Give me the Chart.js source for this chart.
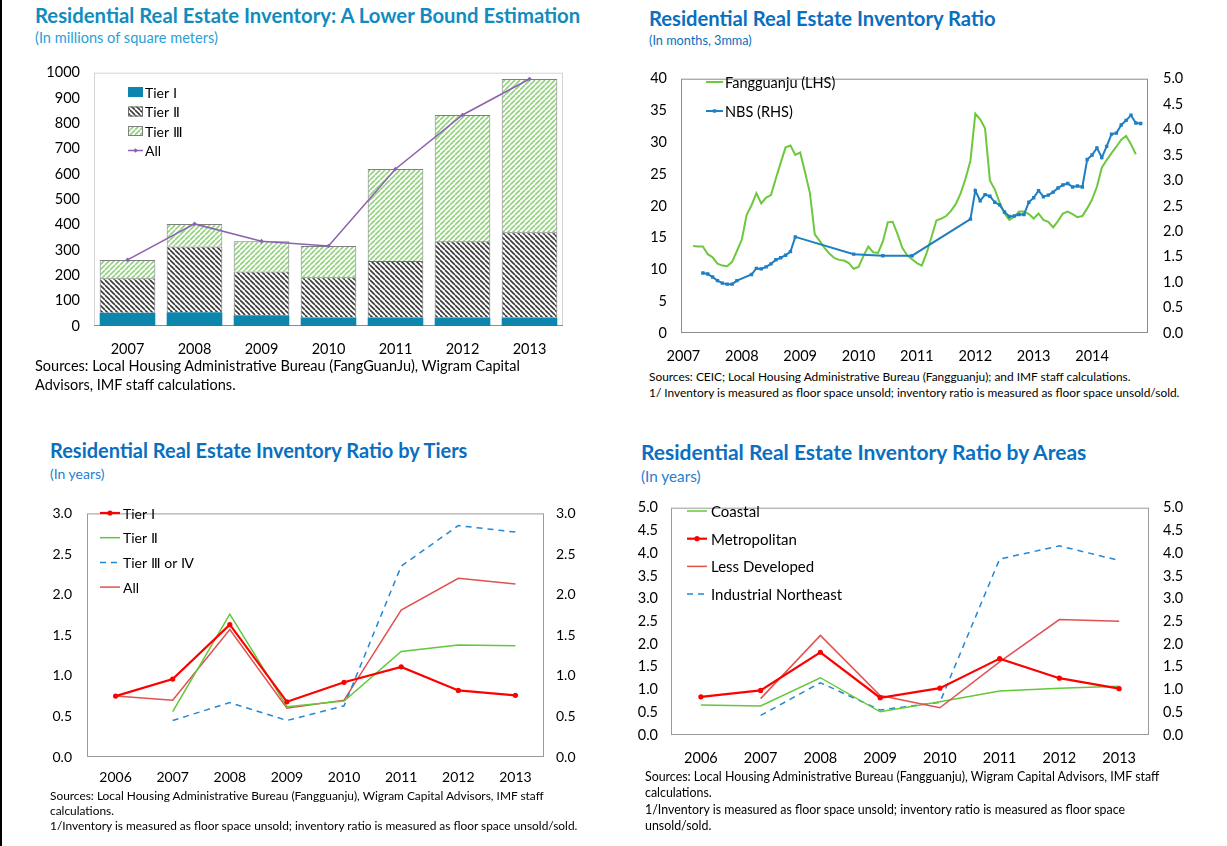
<!DOCTYPE html>
<html lang="en">
<head>
<meta charset="utf-8">
<title>Residential Real Estate Inventory</title>
<script src="https://cdn.jsdelivr.net/npm/chart.js@4.4.1/dist/chart.umd.min.js"></script>
<style>
  html, body { margin: 0; padding: 0; background: #fff; }
  body { position: relative; width: 1227px; height: 846px; overflow: hidden;
         font-family: "Lato", "Open Sans", sans-serif; color: #000; }
  .edge { position: absolute; left: 0; top: 0; width: 2px; height: 846px; background: #000; }
  .txt { position: absolute; white-space: nowrap; }
  .ttl { font-weight: 700; }
  .box { position: absolute; }
</style>
</head>
<body>
<div class="edge"></div>

<!-- top left -->
<div class="txt ttl" style="left:35px;top:5px;font-size:20.3px;line-height:21px;color:#128cbf">Residential Real Estate Inventory: A Lower Bound Estimation</div>
<div class="txt" style="left:35px;top:30px;font-size:14.6px;line-height:16px;color:#2a9fd8">(In millions of square meters)</div>
<div class="box" style="left:10px;top:50px"><canvas id="stockChart" width="560" height="312"></canvas></div>
<div class="txt" style="left:35px;top:356px;font-size:14.5px;line-height:19px">Sources: Local Housing Administrative Bureau (FangGuanJu), Wigram Capital<br>Advisors, IMF staff calculations.</div>

<!-- top right -->
<div class="txt ttl" style="left:649px;top:8px;font-size:20.2px;line-height:21px;color:#0a6fc0">Residential Real Estate Inventory Ratio</div>
<div class="txt" style="left:649px;top:33px;font-size:12.7px;line-height:14px;color:#0a6fc0">(In months, 3mma)</div>
<div class="box" style="left:600px;top:55px"><canvas id="ratioChart" width="627" height="310"></canvas></div>
<div class="txt" style="left:649px;top:369px;font-size:11.9px;line-height:16px">Sources: CEIC; Local Housing Administrative Bureau (Fangguanju); and IMF staff calculations.<br>1/ Inventory is measured as floor space unsold; inventory ratio is measured as floor space unsold/sold.</div>

<!-- bottom left -->
<div class="txt ttl" style="left:50px;top:440px;font-size:20px;line-height:21px;color:#0a6fc0">Residential Real Estate Inventory Ratio by Tiers</div>
<div class="txt" style="left:50px;top:466px;font-size:14px;line-height:15px;color:#1f7fd0">(In years)</div>
<div class="box" style="left:20px;top:490px"><canvas id="tierChart" width="600" height="300"></canvas></div>
<div class="txt" style="left:50px;top:788px;font-size:11.9px;line-height:15px">Sources: Local Housing Administrative Bureau (Fangguanju), Wigram Capital Advisors, IMF staff<br>calculations.<br>1/Inventory is measured as floor space unsold; inventory ratio is measured as floor space unsold/sold.</div>

<!-- bottom right -->
<div class="txt ttl" style="left:641px;top:441px;font-size:21px;line-height:22px;color:#0a6fc0">Residential Real Estate Inventory Ratio by Areas</div>
<div class="txt" style="left:641px;top:468px;font-size:15.3px;line-height:16px;color:#1f7fd0">(In years)</div>
<div class="box" style="left:620px;top:485px"><canvas id="areaChart" width="607" height="285"></canvas></div>
<div class="txt" style="left:645px;top:769px;font-size:12.4px;line-height:16.3px">Sources: Local Housing Administrative Bureau (Fangguanju), Wigram Capital Advisors, IMF staff<br>calculations.<br>1/Inventory is measured as floor space unsold; inventory ratio is measured as floor space<br>unsold/sold.</div>

<script>
/* ---------- data ---------- */

// inventory stock, millions of m2
var STOCK_YEARS = ["2007", "2008", "2009", "2010", "2011", "2012", "2013"];
var STOCK_TIER1 = [52, 54, 42, 34, 34, 34, 34];
var STOCK_TIER2 = [137, 260, 173, 158, 223, 301, 336];
var STOCK_TIER3 = [72, 89, 120, 124, 363, 498, 605];
var STOCK_ALL = [261, 403, 335, 316, 620, 833, 975];

// inventory ratio, months (3mma)
var RATIO_YEARS = ["2007", "2008", "2009", "2010", "2011", "2012", "2013", "2014"];
var FGJ_START = "2007-03";
var FGJ_VALUES = [
  13.7, 13.6, 13.6, 12.4, 11.9, 10.9, 10.6, 10.5, 11.2, 12.9,
  14.7, 18.6, 20.1, 22.0, 20.4, 21.3, 21.7, 24.3, 26.8, 29.2,
  29.5, 28.0, 28.4, 25.3, 22.0, 15.5, 14.5, 13.4, 12.5, 11.8,
  11.5, 11.4, 11.0, 10.1, 10.4, 12.1, 13.6, 12.7, 12.6, 14.4,
  17.4, 17.5, 15.6, 13.4, 12.2, 11.6, 11.0, 10.6, 12.6, 15.1,
  17.7, 18.0, 18.4, 19.2, 20.3, 22.0, 24.3, 27.1, 34.5, 33.6,
  32.2, 24.0, 22.6, 20.5, 18.8, 17.8, 18.3, 19.1, 19.1, 18.7,
  18.0, 18.8, 17.8, 17.5, 16.6, 17.6, 18.8, 19.1, 18.7, 18.2,
  18.4, 19.6, 21.0, 23.0, 26.0, 27.2, 28.3, 29.3, 30.4, 31.0,
  29.7, 28.1
];
var NBS_MONTHS = [
  "2007-05", "2007-06", "2007-07", "2007-08", "2007-09", "2007-10", "2007-11", "2007-12",
  "2008-03", "2008-04", "2008-05", "2008-06", "2008-07", "2008-08", "2008-09", "2008-10", "2008-11", "2008-12",
  "2009-12", "2010-06", "2010-12",
  "2011-12",
  "2012-01", "2012-02", "2012-03", "2012-04", "2012-05", "2012-06",
  "2012-07", "2012-08", "2012-09", "2012-10", "2012-11", "2012-12",
  "2013-01", "2013-02", "2013-03", "2013-04", "2013-05", "2013-06",
  "2013-07", "2013-08", "2013-09", "2013-10", "2013-11", "2013-12",
  "2014-01", "2014-02", "2014-03", "2014-04", "2014-05", "2014-06",
  "2014-07", "2014-08", "2014-09", "2014-10", "2014-11"
];
var NBS_VALUES = [
  1.18, 1.16, 1.10, 1.03, 0.98, 0.96, 0.96, 1.03,
  1.15, 1.27, 1.26, 1.30, 1.36, 1.44, 1.48, 1.53, 1.60, 1.89,
  1.55, 1.52, 1.52,
  2.24,
  2.80, 2.60, 2.72, 2.69, 2.57, 2.52,
  2.38, 2.29, 2.30, 2.33, 2.33, 2.57,
  2.66, 2.80, 2.68, 2.71, 2.77, 2.85,
  2.91, 2.94, 2.87, 2.89, 2.87, 3.41,
  3.50, 3.64, 3.45, 3.67, 3.91, 3.93,
  4.09, 4.18, 4.28, 4.13, 4.12
];

// ratio by tiers, years
var TIER_YEARS = ["2006", "2007", "2008", "2009", "2010", "2011", "2012", "2013"];
var TIER_1 = [0.75, 0.96, 1.63, 0.68, 0.92, 1.11, 0.82, 0.76];
var TIER_2 = [null, 0.56, 1.76, 0.62, 0.69, 1.30, 1.38, 1.37];
var TIER_34 = [null, 0.45, 0.67, 0.45, 0.63, 2.35, 2.85, 2.77];
var TIER_ALL = [0.75, 0.70, 1.57, 0.60, 0.70, 1.81, 2.20, 2.13];

// ratio by areas, years
var AREA_YEARS = ["2006", "2007", "2008", "2009", "2010", "2011", "2012", "2013"];
var AREA_COASTAL = [0.66, 0.64, 1.26, 0.51, 0.73, 0.97, 1.03, 1.07];
var AREA_METRO = [0.84, 0.98, 1.82, 0.82, 1.03, 1.68, 1.25, 1.02];
var AREA_LESSDEV = [null, 0.80, 2.19, 0.87, 0.60, 1.61, 2.54, 2.50];
var AREA_NORTHEAST = [null, 0.43, 1.15, 0.55, 0.72, 3.87, 4.16, 3.84];

/* ---------- helpers ---------- */

Chart.defaults.font.family = '"Lato", "Open Sans", sans-serif';
Chart.defaults.font.size = 14;
Chart.defaults.color = "#000";
Chart.defaults.animation = false;
Chart.defaults.plugins.legend.display = false;
Chart.defaults.plugins.tooltip.enabled = false;

function monthIndex(s) {
  var p = s.split("-");
  return (+p[0] - 2007) * 12 + (+p[1] - 1);
}

function hatch(color, dir, size, lw) {
  var s = size, c = document.createElement("canvas");
  c.width = s; c.height = s;
  var g = c.getContext("2d");
  g.fillStyle = "#fff";
  g.fillRect(0, 0, s, s);
  g.strokeStyle = color;
  g.lineWidth = lw;
  for (var o = -s; o <= s; o += s) {
    g.beginPath();
    if (dir > 0) { g.moveTo(o, s); g.lineTo(o + s, 0); }
    else { g.moveTo(o, 0); g.lineTo(o + s, s); }
    g.stroke();
  }
  return g.createPattern(c, "repeat");
}

function fixW(w) { return function (s) { s.width = w; }; }
function fixH(h) { return function (s) { s.height = h; }; }
function oneDecimal(v) { return v.toFixed(1); }

// plot-area box, like the Excel originals
var plotFrame = {
  id: "plotFrame",
  beforeDatasetsDraw: function (chart, args, o) {
    if (!o || !o.color) return;
    var a = chart.chartArea, ctx = chart.ctx;
    ctx.save();
    ctx.lineWidth = 1;
    ctx.strokeStyle = o.color;
    ctx.strokeRect(a.left + 0.5, a.top + 0.5, a.right - a.left - 1, a.bottom - a.top - 1);
    if (o.baseColor) {
      ctx.strokeStyle = o.baseColor;
      ctx.beginPath();
      ctx.moveTo(a.left, a.bottom - 0.5);
      ctx.lineTo(a.right, a.bottom - 0.5);
      ctx.stroke();
    }
    ctx.restore();
  }
};

// legend drawn inside the plot, built from the datasets
var insideLegend = {
  id: "insideLegend",
  afterDraw: function (chart, args, o) {
    if (!o || !o.rows) return;
    var ctx = chart.ctx;
    ctx.save();
    ctx.font = o.font;
    ctx.textBaseline = "middle";
    o.rows.forEach(function (idx, i) {
      var ds = chart.data.datasets[idx];
      var y = o.y + i * o.gap;
      var isBar = ds.type ? ds.type === "bar" : chart.config.type === "bar";
      if (isBar) {
        ctx.fillStyle = ds.backgroundColor;
        ctx.fillRect(o.x, y - 5, o.w, 10);
        ctx.strokeStyle = ds.borderWidth ? ds.borderColor : ds.backgroundColor;
        ctx.lineWidth = 1;
        ctx.strokeRect(o.x + 0.5, y - 4.5, o.w - 1, 9);
      } else {
        ctx.strokeStyle = ds.borderColor;
        ctx.lineWidth = ds.borderWidth;
        ctx.setLineDash(ds.borderDash || []);
        ctx.beginPath();
        ctx.moveTo(o.x, y);
        ctx.lineTo(o.x + o.w, y);
        ctx.stroke();
        ctx.setLineDash([]);
        if (ds.pointRadius > 0) {
          ctx.fillStyle = ds.pointBackgroundColor || ds.borderColor;
          ctx.strokeStyle = ds.borderColor;
          Chart.helpers.drawPoint(ctx, {
            pointStyle: ds.pointStyle || "circle",
            radius: ds.pointRadius,
            rotation: 0,
            borderWidth: 0
          }, o.x + o.w / 2, y);
        }
      }
      ctx.fillStyle = "#000";
      ctx.fillText(ds.label, o.x + o.w + o.pad, y + 1);
    });
    ctx.restore();
  }
};

Chart.register(plotFrame, insideLegend);

/* ---------- top left: stacked bars ---------- */
new Chart(document.getElementById("stockChart"), {
  type: "bar",
  data: {
    labels: STOCK_YEARS,
    datasets: [
      { label: "Tier \u2160", data: STOCK_TIER1, backgroundColor: "#0d86ad", borderWidth: 0, order: 1 },
      { label: "Tier \u2161", data: STOCK_TIER2, backgroundColor: hatch("#3a3a3a", -1, 5, 1.6),
        borderColor: "#6f6f6f", borderWidth: 1, order: 1 },
      { label: "Tier \u2162", data: STOCK_TIER3, backgroundColor: hatch("#92d27e", 1, 5, 1.6),
        borderColor: "#7f7f7f", borderWidth: 1, order: 1 },
      { type: "line", label: "All", data: STOCK_ALL, borderColor: "#8c62b0", borderWidth: 1.5,
        pointStyle: "rectRot", pointRadius: 2.3, pointBorderWidth: 0, pointBackgroundColor: "#8c62b0",
        pointBorderColor: "#8c62b0", order: 0 }
    ]
  },
  options: {
    responsive: false,
    layout: { padding: { top: 12, right: 7, left: 0, bottom: 0 } },
    datasets: { bar: { barPercentage: 0.83, categoryPercentage: 1 } },
    scales: {
      x: {
        stacked: true,
        grid: { display: false, drawTicks: false },
        border: { display: false },
        ticks: { padding: 15, font: { size: 14.5 } },
        afterFit: fixH(36)
      },
      y: {
        stacked: true, min: 0, max: 1000,
        grid: { display: false, drawTicks: false },
        border: { display: false },
        ticks: { stepSize: 100, padding: 14, font: { size: 14.5 },
          callback: function (v) { return String(v); } },
        afterFit: fixW(84)
      }
    },
    plugins: {
      plotFrame: { color: "#d4d4d4", baseColor: "#8c8c8c" },
      insideLegend: { rows: [0, 1, 2, 3], x: 118, y: 42, gap: 19.5, w: 15, pad: 2, font: "14px Lato, sans-serif" }
    }
  }
});

/* ---------- top right: monthly ratio ---------- */
var fgjStart = monthIndex(FGJ_START);
new Chart(document.getElementById("ratioChart"), {
  type: "line",
  data: {
    datasets: [
      { label: "Fangguanju (LHS)", yAxisID: "y",
        data: FGJ_VALUES.map(function (v, i) { return { x: fgjStart + i, y: v }; }),
        borderColor: "#6cc83c", borderWidth: 2, pointRadius: 0, order: 1 },
      { label: "NBS (RHS)", yAxisID: "y1",
        data: NBS_VALUES.map(function (v, i) { return { x: monthIndex(NBS_MONTHS[i]), y: v }; }),
        borderColor: "#1f7fc3", borderWidth: 2, pointStyle: "rect", pointRadius: 2.4,
        pointBorderWidth: 0, pointBackgroundColor: "#1f7fc3", pointBorderColor: "#1f7fc3", order: 0 }
    ]
  },
  options: {
    responsive: false,
    layout: { padding: { top: 10, right: 0, left: 0, bottom: 0 } },
    scales: {
      x: {
        type: "linear", min: -0.5, max: 95.5,
        grid: { display: false, drawTicks: false },
        border: { display: false },
        afterBuildTicks: function (s) {
          s.ticks = RATIO_YEARS.map(function (yr) { return { value: monthIndex(yr + "-01") }; });
        },
        ticks: {
          autoSkip: false, maxRotation: 0, padding: 15, font: { size: 14.5 },
          callback: function (v, i) { return RATIO_YEARS[i]; }
        },
        afterFit: fixH(32)
      },
      y: {
        position: "left", min: 0, max: 40,
        grid: { display: false, drawTicks: false },
        border: { display: false },
        ticks: { stepSize: 5, padding: 14, font: { size: 14.5 } },
        afterFit: fixW(81)
      },
      y1: {
        position: "right", min: 0, max: 5,
        grid: { display: false, drawTicks: false },
        border: { display: false },
        ticks: { stepSize: 0.5, padding: 15, font: { size: 14.5 }, callback: oneDecimal },
        afterFit: fixW(79)
      }
    },
    plugins: {
      plotFrame: { color: "#8c8c8c" },
      insideLegend: { rows: [0, 1], x: 106, y: 27, gap: 29, w: 17, pad: 2, font: "14.5px Lato, sans-serif" }
    }
  }
});

/* ---------- bottom left: by tiers ---------- */
new Chart(document.getElementById("tierChart"), {
  type: "line",
  data: {
    labels: TIER_YEARS,
    datasets: [
      { label: "Tier \u2160", data: TIER_1, borderColor: "#ff0000", borderWidth: 2.2,
        pointRadius: 2.6, pointBorderWidth: 0, pointBackgroundColor: "#ff0000", pointBorderColor: "#ff0000" },
      { label: "Tier \u2161", data: TIER_2, borderColor: "#62c83a", borderWidth: 1.5, pointRadius: 0 },
      { label: "Tier \u2162 or \u2163", data: TIER_34, borderColor: "#2388d4", borderWidth: 1.5,
        borderDash: [6, 5], pointRadius: 0 },
      { label: "All", data: TIER_ALL, borderColor: "#e0524f", borderWidth: 1.5, pointRadius: 0 }
    ]
  },
  options: {
    responsive: false,
    layout: { padding: { top: 7, right: 0, left: 0, bottom: 0 } },
    scales: {
      x: {
        offset: true,
        grid: { display: false, drawTicks: false },
        border: { display: false },
        ticks: { padding: 12, font: { size: 14 } },
        afterFit: fixH(33)
      },
      y: {
        position: "left", min: 0, max: 3,
        grid: { display: false, drawTicks: false },
        border: { display: false },
        ticks: { stepSize: 0.5, padding: 15, font: { size: 14 }, callback: oneDecimal },
        afterFit: fixW(67)
      },
      y1: {
        position: "right", min: 0, max: 3,
        grid: { display: false, drawTicks: false },
        border: { display: false },
        ticks: { stepSize: 0.5, padding: 12, font: { size: 14 }, callback: oneDecimal },
        afterFit: fixW(76)
      }
    },
    plugins: {
      plotFrame: { color: "#9a9a9a" },
      insideLegend: { rows: [0, 1, 2, 3], x: 80, y: 23, gap: 24.7, w: 20, pad: 3, font: "14px Lato, sans-serif" }
    }
  }
});

/* ---------- bottom right: by areas ---------- */
new Chart(document.getElementById("areaChart"), {
  type: "line",
  data: {
    labels: AREA_YEARS,
    datasets: [
      { label: "Coastal", data: AREA_COASTAL, borderColor: "#62c83a", borderWidth: 1.5, pointRadius: 0, order: 2 },
      { label: "Metropolitan", data: AREA_METRO, borderColor: "#ff0000", borderWidth: 2.2,
        pointRadius: 2.6, pointBorderWidth: 0, pointBackgroundColor: "#ff0000", pointBorderColor: "#ff0000", order: 0 },
      { label: "Less Developed", data: AREA_LESSDEV, borderColor: "#e0524f", borderWidth: 1.5, pointRadius: 0, order: 1 },
      { label: "Industrial Northeast", data: AREA_NORTHEAST, borderColor: "#2388d4", borderWidth: 1.5,
        borderDash: [6, 5], pointRadius: 0, order: 3 }
    ]
  },
  options: {
    responsive: false,
    layout: { padding: { top: 7, right: 0, left: 0, bottom: 0 } },
    scales: {
      x: {
        offset: true,
        grid: { display: false, drawTicks: false },
        border: { display: false },
        ticks: { padding: 15, font: { size: 14.5 } },
        afterFit: fixH(35)
      },
      y: {
        position: "left", min: 0, max: 5,
        grid: { display: false, drawTicks: false },
        border: { display: false },
        ticks: { stepSize: 0.5, padding: 13, font: { size: 14.5 }, callback: oneDecimal },
        afterFit: fixW(51)
      },
      y1: {
        position: "right", min: 0, max: 5,
        grid: { display: false, drawTicks: false },
        border: { display: false },
        ticks: { stepSize: 0.5, padding: 14, font: { size: 14.5 }, callback: oneDecimal },
        afterFit: fixW(78)
      }
    },
    plugins: {
      plotFrame: { color: "#9a9a9a" },
      insideLegend: { rows: [0, 1, 2, 3], x: 67, y: 26, gap: 27.7, w: 20, pad: 4, font: "15px Lato, sans-serif" }
    }
  }
});
</script>
</body>
</html>
